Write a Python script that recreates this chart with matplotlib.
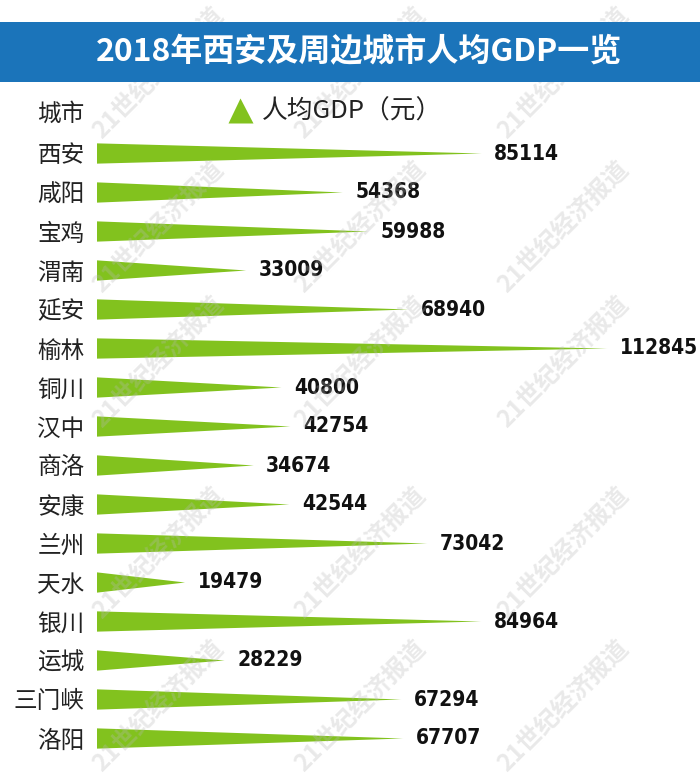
import matplotlib
matplotlib.use('Agg')
import matplotlib.pyplot as plt
from matplotlib.patches import Polygon, Rectangle
from matplotlib.lines import Line2D

plt.rcParams['font.family'] = ['Noto Sans CJK SC', 'DejaVu Sans']

# 数据
cities = ['西安', '咸阳', '宝鸡', '渭南', '延安', '榆林', '铜川', '汉中',
          '商洛', '安康', '兰州', '天水', '银川', '运城', '三门峡', '洛阳']
gdp_per_capita = [85114, 54368, 59988, 33009, 68940, 112845, 40800, 42754,
                  34674, 42544, 73042, 19479, 84964, 28229, 67294, 67707]

title = '2018年西安及周边城市人均GDP一览'
legend_label = '人均GDP（元）'
watermark = '21世纪经济报道'

W, H = 700, 779
bar_color = '#82c21e'
banner_color = '#1b74ba'

fig = plt.figure(figsize=(W / 100, H / 100), dpi=100)
fig.patch.set_facecolor('white')

# 主坐标轴: x=0 在 97px, 每单位 0.00452px
left_px = 97
px_per_unit = 0.00452
row0_px, row_step = 153.5, 39.0
n = len(cities)
top_px = row0_px - row_step * 0.5
bot_px = row0_px + row_step * (n - 0.5)
ax = fig.add_axes([left_px / W, 1 - bot_px / H, (W - left_px) / W, (bot_px - top_px) / H])
ax.set_xlim(0, (W - left_px) / px_per_unit)
ax.set_ylim(n - 0.5, -0.5)
ax.patch.set_alpha(0)
for s in ax.spines.values():
    s.set_visible(False)
ax.set_xticks([])
ax.set_yticks(range(n))
ax.set_yticklabels(cities, fontsize=17, color='#222222')
ax.tick_params(axis='y', length=0, pad=9)

# 三角形条
half_h = 0.26
for i, v in enumerate(gdp_per_capita):
    ax.add_patch(Polygon([(0, i - half_h), (v, i), (0, i + half_h)],
                         closed=True, facecolor=bar_color, edgecolor='none'))
    ax.annotate(str(v), xy=(v, i), xytext=(9, 0), textcoords='offset points',
                ha='left', va='center', fontsize=15, fontweight='bold',
                fontstretch='condensed', color='#111111', family='DejaVu Sans')

# 表头
ax.annotate('城市', xy=(0, -1), xytext=(-9, 0), textcoords='offset points',
            ha='right', va='center', fontsize=17, color='#222222', annotation_clip=False)
handle = Line2D([], [], marker='^', linestyle='none', markersize=18,
                markerfacecolor=bar_color, markeredgecolor='none')
fig.legend([handle], [legend_label], loc='center left',
           bbox_to_anchor=(226 / W, 1 - 112 / H), bbox_transform=fig.transFigure,
           frameon=False, borderpad=0, borderaxespad=0, handlelength=1.1,
           handletextpad=0.3, prop={'family': 'Noto Sans CJK SC', 'size': 18.5},
           labelcolor='#222222')

# 水印
wm_x = [158, 360, 563]
wm_y = [73, 227, 362, 553, 706]
for yy in wm_y:
    for xx in wm_x:
        fig.text(xx / W, 1 - yy / H, watermark, rotation=45, ha='center', va='center',
                 fontsize=17.5, fontweight='bold', color='#b8b8b8', alpha=0.3, zorder=4)

# 标题栏
fig.add_artist(Rectangle((0, 1 - 82 / H), 1, 60 / H, transform=fig.transFigure,
                         facecolor=banner_color, edgecolor='none', zorder=5))
fig.text(359 / W, 1 - 52 / H, title, ha='center', va='center', fontsize=23,
         fontweight='bold', color='white', zorder=6)

fig.savefig('out.png', dpi=100)
